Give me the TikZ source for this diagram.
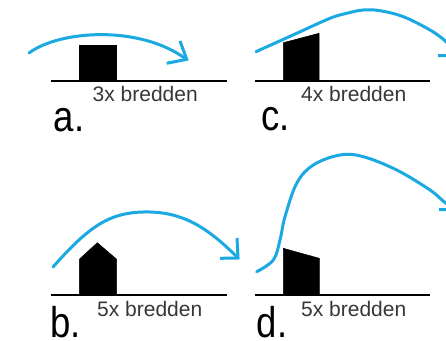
\documentclass[tikz,border=0pt]{standalone}
\usepackage{fontspec}
\setmainfont{Liberation Sans}
\definecolor{arcblue}{RGB}{27,169,225}
\definecolor{txtgray}{RGB}{55,55,55}
\begin{document}
\begin{tikzpicture}[x=1pt,y=-1pt,
  ground/.style={line width=1.8pt,black},
  building/.style={fill=black,draw=black,line width=0.5pt,line join=miter},
  flow/.style={line width=3pt,arcblue,line cap=round},
  barb/.style={line width=3pt,arcblue,line cap=butt,line join=miter},
  small/.style={anchor=base west,inner sep=0pt,text=txtgray,font=\fontsize{21}{25}\selectfont},
  letter/.style={anchor=base west,inner sep=0pt,text=black,font=\fontsize{43}{48}\selectfont}]
\path[use as bounding box,clip] (0,0) rectangle (446,340);
\fill[white] (0,0) rectangle (446,340);

% ---------- panel a ----------
\draw[ground] (50.7,80.7) -- (226.7,80.7);
\fill[building] (79.3,45) rectangle (116.7,80.7);
\draw[flow] (29,53) .. controls (60,30) and (140,25) .. (186,59);
\draw[barb] (180,41) -- (186.7,59.3) -- (166.7,63.3);
\node[small] (ta) at (92.5,101) {3x bredden};
\node[letter] (la) at (53.5,131) {\scalebox{0.85}[1]{a.}};

% ---------- panel c ----------
\draw[ground] (255,80.7) -- (430,80.7);
\fill[building] (283.3,80.7) -- (283.3,42.7) -- (319,33.3) -- (319,80.7) -- cycle;
\draw[flow] plot[smooth,tension=0.6] coordinates {(256,51.7) (296.7,33.3) (330,18.3) (346.7,13.3) (363.3,10) (380,10.7) (403.3,16.7) (430,30) (446,41.7) (457,55)};
\draw[barb] (456,36) -- (457,55.5) -- (438,55.5);
\node[small] (tc) at (301,101) {4x bredden};
\node[letter] (lc) at (261.5,130.5) {\scalebox{0.85}[1]{c.}};

% ---------- panel b ----------
\draw[ground] (50.7,295) -- (226.7,295);
\fill[building] (79.3,295) -- (79.3,259.3) -- (97.3,242.7) -- (116.7,259.3) -- (116.7,295) -- cycle;
\draw[flow] (53,267) .. controls (90,225) and (110,213) .. (143,212) .. controls (180,211) and (205,225) .. (237,257);
\draw[barb] (237,238) -- (238,258) -- (220,258.3);
\node[small] (tb) at (97,316.7) {5x bredden};
\node[letter] (lb) at (50,337) {\scalebox{0.85}[1]{b.}};

% ---------- panel d ----------
\draw[ground] (255,295) -- (430,295);
\fill[building] (283.3,295) -- (283.3,248.3) -- (319.3,258.3) -- (319.3,295) -- cycle;
\draw[flow] plot[smooth,tension=0.6] coordinates {(256.7,271.7) (273.3,260) (280,240) (285,216.7) (296.7,183.3) (313.3,165) (340,155) (363.3,156.7) (396.7,170) (430,190) (446,203.3) (458,209)};
\draw[barb] (457,190) -- (458,209.5) -- (439,209.5);
\node[small] (td) at (301,316.7) {5x bredden};
\node[letter] (ld) at (256.5,337) {\scalebox{0.85}[1]{d.}};
\end{tikzpicture}
\end{document}
